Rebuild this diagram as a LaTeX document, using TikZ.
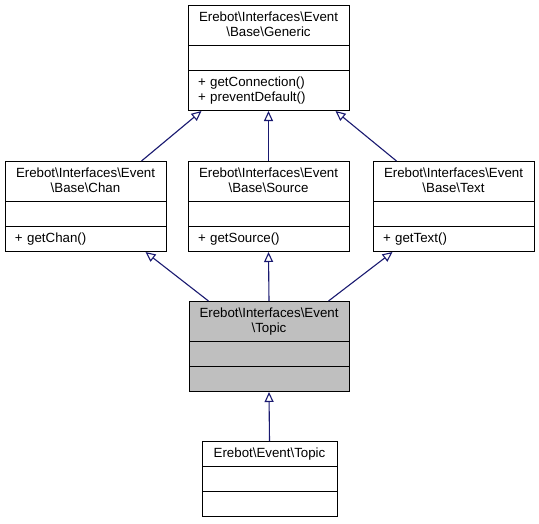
\documentclass[tikz,border=0pt]{standalone}
\usepackage{fontspec}
\setmainfont{Liberation Sans}
\usetikzlibrary{arrows.meta}
\usetikzlibrary{shapes.multipart}
\newcommand{\bsl}{\textbackslash}
\definecolor{edgeblue}{HTML}{191970}
\definecolor{focusgray}{HTML}{BFBFBF}

\begin{document}
\begin{tikzpicture}[
		x=1pt, y=-1pt,
		>={Triangle[open,length=10pt,width=9pt]},
		every edge/.style={draw=edgeblue, line width=1.1pt},
	]
		\useasboundingbox (0,0) rectangle (539,523);

		% classes
		\begin{scope}[every node/.style={draw, line width=1pt, rectangle split, rectangle split parts=3,
				anchor=north, text width=141pt, inner xsep=10pt, inner ysep=4.5pt,
				font=\fontsize{13.3}{15}\selectfont}]
			\node (generic) at (268.5, 5) {\centering\strut Erebot\bsl Interfaces\bsl Event\\\bsl Base\bsl Generic\strut\par
				\nodepart{two}\strut
				\nodepart{three}\strut + getConnection()\\+ preventDefault()\strut};
			\node (chan) at (85.5, 161) {\centering\strut Erebot\bsl Interfaces\bsl Event\\\bsl Base\bsl Chan\strut\par
				\nodepart{two}\strut
				\nodepart{three}\strut + getChan()};
			\node (source) at (268.5, 161) {\centering\strut Erebot\bsl Interfaces\bsl Event\\\bsl Base\bsl Source\strut\par
				\nodepart{two}\strut
				\nodepart{three}\strut + getSource()};
			\node (textev) at (453.5, 161) {\centering\strut Erebot\bsl Interfaces\bsl Event\\\bsl Base\bsl Text\strut\par
				\nodepart{two}\strut
				\nodepart{three}\strut + getText()};
			\node [fill=focusgray, text width=140pt] (topic) at (269, 301) {\centering\strut Erebot\bsl Interfaces\bsl Event\\\bsl Topic\strut\par
				\nodepart{two}\strut
				\nodepart{three}\strut};
			\node [text width=115pt] (evtopic) at (269.5, 441) {\centering\strut Erebot\bsl Event\bsl Topic\par
				\nodepart{two}\strut
				\nodepart{three}\strut};
		\end{scope}

		% inheritance
		\path [->] ([xshift=-25pt]chan.north east) edge ([xshift=14pt]generic.south west);
		\path [->] (source.north) edge (generic.south);
		\path [->] ([xshift=24pt]textev.north west) edge ([xshift=-14pt]generic.south east);
		\path [->] ([xshift=20pt]topic.north west) edge ([xshift=-21pt]chan.south east);
		\path [->] (topic.north) edge (source.south);
		\path [->] ([xshift=-21pt]topic.north east) edge ([xshift=20pt]textev.south west);
		\path [->] (evtopic.north) edge (topic.south);
	\end{tikzpicture}
\end{document}
